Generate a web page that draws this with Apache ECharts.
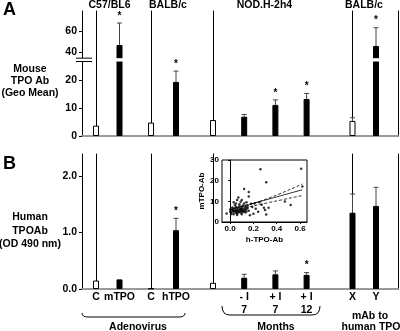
<!DOCTYPE html>
<html>
<head>
<meta charset="utf-8">
<script src="https://cdn.jsdelivr.net/npm/echarts@6/dist/echarts.min.js"></script>
<style>
  html, body { margin: 0; padding: 0; background: #fff; }
  #chart { width: 400px; height: 331px; }
</style>
</head>
<body>
<div id="chart"></div>
<script>
const groupNames = ['C57/BL6', 'BALB/c', 'NOD.H-2h4', 'BALB/c'];
const groupSizes = [2, 2, 4, 2];

// A: mouse TPO Ab (geo mean)
const mouseAb    = [3.7, 46.7, 4.8, 19.3, 5.7, 6.9, 11.1, 13.2, 5.4, 45.7];
const mouseAbErr = [-1, 67.6, -1, 23.2, -1, 7.7, 12.9, 15.2, 6.5, 63.1];
const mouseStar  = [0, 1, 0, 1, 0, 0, 1, 1, 0, 1];
const mouseOpen  = [1, 0, 1, 0, 1, 0, 0, 0, 1, 0];
const mouseTicks = [0, 10, 20, 40, 60];

// B: human TPO Ab (OD 490 nm)
const humanAb    = [0.15, 0.17, 0.01, 1.04, 0.11, 0.20, 0.26, 0.25, 1.35, 1.47];
const humanAbErr = [-1, -1, -1, 1.25, -1, 0.26, 0.32, 0.29, 1.68, 1.80];
const humanStar  = [0, 0, 0, 1, 0, 0, 0, 1, 0, 0];
const humanOpen  = [1, 0, 1, 0, 1, 0, 0, 0, 0, 0];
const humanTicks = [0, 1, 2];
const barLabels  = ['C', 'mTPO', 'C', 'hTPO', '', '- I\n7', '+ I\n7', '+ I\n12', 'X', 'Y'];

// inset: h-TPO-Ab vs mTPO-Ab
const scatterPts = [
  [0.26, 25.5], [0.61, 25.8], [0.31, 19.2], [0.62, 17.2], [0.12, 16.0], [0.16, 14.5],
  [0.16, 12.3], [0.07, 11.8], [0.06, 10.7], [0.10, 10.6], [0.47, 9.9], [0.52, 8.2],
  [0.29, 6.9], [0.30, 5.8], [0.33, 6.9], [0.24, 4.9], [0.31, 3.6], [0.17, 3.3],
  [0.20, 4.0], [-0.03, 4.1], [0.14, 9.5], [0.18, 8.8], [0.21, 9.0], [0.25, 9.6],
  [0.12, 9.0], [0.09, 9.8], [0.15, 7.8], [0.19, 7.2], [0.22, 6.4], [0.13, 4.6],
  [0.16, 5.5], [0.27, 8.4], [0.00, 5.0], [0.01, 4.6], [0.02, 5.4], [0.02, 6.2],
  [0.03, 4.8], [0.03, 5.8], [0.04, 5.2], [0.04, 6.6], [0.05, 4.4], [0.05, 5.6],
  [0.05, 7.2], [0.06, 5.0], [0.06, 6.0], [0.07, 4.7], [0.07, 5.4], [0.07, 6.8],
  [0.08, 5.1], [0.08, 5.9], [0.08, 7.6], [0.09, 4.5], [0.09, 5.6], [0.09, 6.4],
  [0.10, 5.2], [0.10, 6.1], [0.10, 7.0], [0.11, 4.8], [0.11, 5.7], [0.12, 5.3],
  [0.12, 6.5], [0.13, 5.9], [0.13, 7.4], [0.14, 5.1], [0.14, 6.3], [0.01, 3.9],
  [0.03, 3.7], [0.06, 4.1], [0.04, 8.2], [0.02, 7.0], [0.00, 6.0], [0.08, 8.6],
  [0.11, 8.0], [0.05, 9.0], [0.03, 9.6], [0.15, 6.8], [0.06, 3.4], [0.10, 3.8]
];
const fitLine = [[0, 5.9], [0.62, 15.6]];
const ciUpper = [[0, 6.7], [0.1, 7.7], [0.3, 10.9], [0.62, 18.4]];
const ciLower = [[0, 5.2], [0.1, 6.5], [0.3, 9.0], [0.62, 12.8]];

// layout (px)
const edges = [82, 137, 199, 330, 398];
const firstBar = [14, 14, 14, 22.5];
const pitch = [23.5, 25, 31.2, 23.5];
const panels = [{ top: 11, bottom: 136, max: 44.64 }, { top: 154, bottom: 289, max: 2.389 }];
const FONT = '"Liberation Sans", Arial, sans-serif';

// broken axis in A: 0-20 linear, 40-60 compressed
const BRK_LO = 26.6, BRK_HI = 27.8;
function brk(v) { return v < 30 ? v : 30 + (v - 40) * 0.375; }
function same(v) { return v; }

const chart = echarts.init(document.getElementById('chart'));
const grids = [], xAxes = [], yAxes = [], series = [];
const off = { show: false };

// error bar, star and the white break gap on a bar
function errItem(params, api) {
  const x = api.value(0);
  const base = api.coord([x, api.value(1)]);
  const kids = [];
  let topY = base[1];
  if (api.value(4)) {
    const a = api.coord([x, BRK_HI]), b = api.coord([x, BRK_LO]);
    kids.push({ type: 'rect', shape: { x: a[0] - 5, y: a[1], width: 10, height: b[1] - a[1] }, style: { fill: '#fff' } });
  }
  const e = api.value(2);
  if (e >= 0) {
    const t = api.coord([x, e]);
    topY = t[1];
    kids.push({ type: 'line', shape: { x1: base[0], y1: base[1], x2: t[0], y2: t[1] }, style: { stroke: '#444', lineWidth: 1 } });
    kids.push({ type: 'line', shape: { x1: t[0] - 2.5, y1: t[1], x2: t[0] + 2.5, y2: t[1] }, style: { stroke: '#444', lineWidth: 1 } });
  }
  if (api.value(3)) {
    kids.push({ type: 'text', x: base[0], y: topY - 2, style: { text: '*', font: 'bold 10px ' + FONT, fill: '#000', align: 'center', verticalAlign: 'bottom' } });
  }
  return { type: 'group', children: kids };
}

panels.forEach(function (p, pi) {
  const vals = pi ? humanAb : mouseAb;
  const errs = pi ? humanAbErr : mouseAbErr;
  const stars = pi ? humanStar : mouseStar;
  const open = pi ? humanOpen : mouseOpen;
  const tf = pi ? same : brk;
  let k = 0;
  for (let g = 0; g < 4; g++) {
    const left = edges[g], w = edges[g + 1] - left;
    const gi = grids.length, xi = xAxes.length, yi = yAxes.length;
    const offset = k;
    grids.push({ left: left, top: p.top, width: w, height: p.bottom - p.top });
    xAxes.push({
      gridIndex: gi, type: 'value', min: -firstBar[g] / pitch[g], max: (w - firstBar[g]) / pitch[g],
      axisLine: { show: true, onZero: false, lineStyle: { color: '#000', width: 1 } },
      axisTick: off, splitLine: off,
      axisLabel: pi ? {
        show: true, customValues: Array.from({ length: groupSizes[g] }, (_, i) => i),
        formatter: v => barLabels[offset + Math.round(v)],
        color: '#000', fontSize: 10.5, fontWeight: 'bold', fontFamily: FONT, lineHeight: 13, margin: 2
      } : off
    });
    yAxes.push({
      gridIndex: gi, type: 'value', min: 0, max: p.max,
      axisLine: { show: true, lineStyle: { color: '#000', width: 1 } },
      axisTick: off, axisLabel: off, splitLine: off
    });
    const bars = [], err = [];
    for (let i = 0; i < groupSizes[g]; i++, k++) {
      const d = tf(vals[k]);
      bars.push({ value: [i, d], itemStyle: { color: open[k] ? '#fff' : '#000', borderColor: '#000', borderWidth: 1 } });
      const broken = !pi && d > BRK_HI ? 1 : 0;
      if (errs[k] >= 0 || stars[k] || broken) err.push([i, d, errs[k] >= 0 ? tf(errs[k]) : -1, stars[k], broken]);
    }
    series.push({ type: 'bar', xAxisIndex: xi, yAxisIndex: yi, barWidth: 6, silent: true, data: bars });
    series.push({ type: 'custom', xAxisIndex: xi, yAxisIndex: yi, renderItem: errItem, data: err, silent: true, z: 5 });
  }
  // frame: left axis with labels, right border, grey top border
  const gi = grids.length;
  grids.push({ left: edges[0], top: p.top, width: edges[4] - edges[0], height: p.bottom - p.top });
  xAxes.push({
    gridIndex: gi, type: 'value', position: 'top', min: 0, max: 1,
    axisLine: { show: true, lineStyle: { color: '#999', width: 2 } },
    axisTick: off, axisLabel: off, splitLine: off
  });
  const ticks = pi ? humanTicks : mouseTicks.map(brk);
  yAxes.push({
    gridIndex: gi, type: 'value', position: 'left', min: 0, max: p.max,
    axisLine: { show: true, lineStyle: { color: '#000', width: 1 } },
    axisTick: { show: true, customValues: ticks, length: 3, lineStyle: { color: '#000' } },
    axisLabel: {
      show: true, customValues: ticks, margin: 5, color: '#000', fontSize: 10.5, fontWeight: 'bold', fontFamily: FONT,
      formatter: pi ? (v => v.toFixed(1)) : (v => String(mouseTicks[ticks.indexOf(v)]))
    },
    splitLine: off
  });
  yAxes.push({
    gridIndex: gi, type: 'value', position: 'right', min: 0, max: p.max,
    axisLine: { show: true, lineStyle: { color: '#000', width: 1 } }, axisTick: off, axisLabel: off, splitLine: off
  });
});

// inset scatter
const ig = grids.length, ixi = xAxes.length, iyi = yAxes.length;
grids.push({ left: 222, top: 160, width: 85, height: 62, show: true, borderColor: '#000', borderWidth: 1, backgroundColor: '#fff', z: 3 });
const insetX = [0, 0.2, 0.4, 0.6];
xAxes.push({
  gridIndex: ig, type: 'value', min: -0.07, max: 0.66, z: 4,
  axisLine: { show: true, onZero: false, lineStyle: { color: '#000', width: 1 } },
  axisTick: { show: true, customValues: insetX, length: 2, lineStyle: { color: '#000' } },
  axisLabel: { show: true, customValues: insetX, formatter: v => v.toFixed(1), color: '#000', fontSize: 8, fontWeight: 'bold', fontFamily: FONT, margin: 3 },
  splitLine: off,
  name: 'h-TPO-Ab', nameLocation: 'middle', nameGap: 14,
  nameTextStyle: { color: '#000', fontSize: 8, fontWeight: 'bold', fontFamily: FONT }
});
yAxes.push({
  gridIndex: ig, type: 'value', min: 0, max: 30, interval: 10, z: 4,
  axisLine: { show: true, lineStyle: { color: '#000', width: 1 } },
  axisTick: { show: true, length: 2, lineStyle: { color: '#000' } },
  axisLabel: { show: true, color: '#000', fontSize: 8, fontWeight: 'bold', fontFamily: FONT, margin: 3 },
  splitLine: off,
  name: 'mTPO-Ab', nameLocation: 'middle', nameGap: 15,
  nameTextStyle: { color: '#000', fontSize: 8, fontWeight: 'bold', fontFamily: FONT }
});
series.push({ type: 'scatter', xAxisIndex: ixi, yAxisIndex: iyi, data: scatterPts, symbolSize: 2.5, itemStyle: { color: '#000' }, silent: true, z: 6 });
series.push({ type: 'line', xAxisIndex: ixi, yAxisIndex: iyi, data: fitLine, symbol: 'none', lineStyle: { color: '#000', width: 0.8 }, silent: true, z: 6 });
[ciUpper, ciLower].forEach(function (d) {
  series.push({ type: 'line', xAxisIndex: ixi, yAxisIndex: iyi, data: d, symbol: 'none', smooth: true, lineStyle: { color: '#000', width: 0.8, type: [3, 2] }, silent: true, z: 6 });
});

function txt(text, x, y, size, align, lh) {
  return { type: 'text', x: x, y: y, z: 50, style: { text: text, font: 'bold ' + size + 'px ' + FONT, fill: '#000', align: align || 'center', verticalAlign: 'middle', lineHeight: lh || 12 } };
}
function brace(x1, x2, yTop, yBot, r) {
  const s = { stroke: '#000', lineWidth: 1, fill: null };
  return [
    { type: 'bezierCurve', z: 50, shape: { x1: x1, y1: yTop, cpx1: x1, cpy1: yBot, x2: x1 + r, y2: yBot }, style: s },
    { type: 'line', z: 50, shape: { x1: x1 + r, y1: yBot, x2: x2 - r, y2: yBot }, style: s },
    { type: 'bezierCurve', z: 50, shape: { x1: x2 - r, y1: yBot, cpx1: x2, cpy1: yBot, x2: x2, y2: yTop }, style: s }
  ];
}
// break marks on the A axis (layout px of the break values)
const pA = panels[0];
const yLo = pA.bottom - BRK_LO / pA.max * (pA.bottom - pA.top);
const yHi = pA.bottom - BRK_HI / pA.max * (pA.bottom - pA.top);
const graphics = [
  txt('A', 3, 10, 18, 'left'),
  txt('B', 3, 164, 18, 'left'),
  txt('Mouse\nTPO Ab\n(Geo Mean)', 30, 81, 10.5),
  txt('Human\nTPOAb\n(OD 490 nm)', 30, 231, 10.5, 'center', 13.5),
  txt('Adenovirus', 138, 327, 10.5),
  txt('Months', 276, 327, 10.5),
  txt('mAb to', 370, 316, 10.5),
  txt('human TPO', 371, 327, 10.5),
  { type: 'rect', z: 60, shape: { x: 79, y: yHi, width: 6, height: yLo - yHi }, style: { fill: '#fff' } },
  { type: 'line', z: 61, shape: { x1: 76, y1: yHi, x2: 92, y2: yHi }, style: { stroke: '#000', lineWidth: 1 } },
  { type: 'line', z: 61, shape: { x1: 76, y1: yLo, x2: 92, y2: yLo }, style: { stroke: '#000', lineWidth: 1 } }
].concat(brace(82, 185, 313, 317, 6), brace(222, 320, 306, 315, 8));
groupNames.forEach(function (n, g) {
  graphics.push(txt(n, (edges[g] + edges[g + 1]) / 2, 5, 10.5));
});

chart.setOption({
  animation: false,
  backgroundColor: '#fff',
  textStyle: { fontFamily: FONT, fontWeight: 'bold', color: '#000' },
  grid: grids, xAxis: xAxes, yAxis: yAxes, series: series,
  graphic: graphics
});
</script>
</body>
</html>
